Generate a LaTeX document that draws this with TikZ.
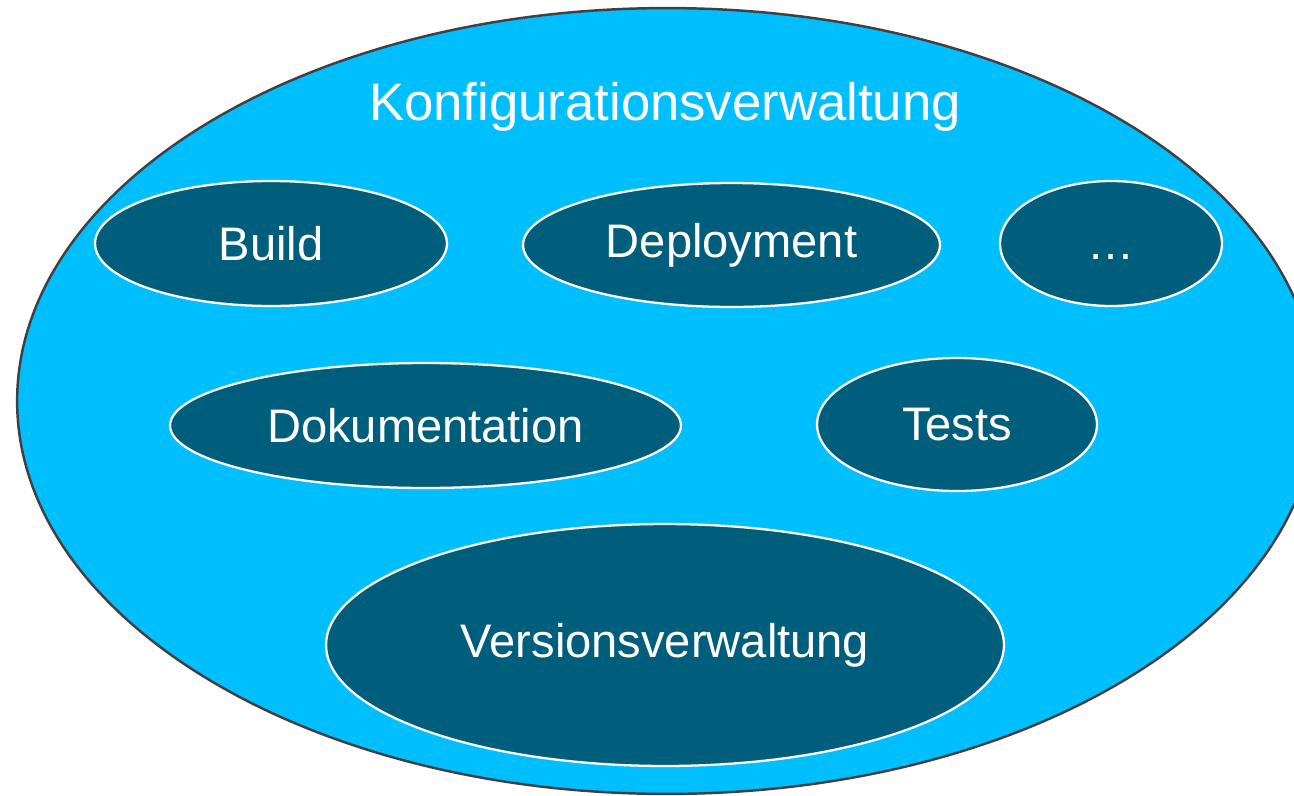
\documentclass[tikz,border=0pt]{standalone}
\usepackage{fontspec}
\setmainfont{Liberation Sans}
\usetikzlibrary{shapes.geometric}
\definecolor{sky}{RGB}{0,191,255}
\definecolor{petrol}{RGB}{0,94,125}
\definecolor{rim}{RGB}{64,64,68}
\tikzset{
    outer/.style = {ellipse,
                    fill=sky,
                    draw=rim,
                    line width=1.4pt,
                    inner sep=0pt},
    part/.style =  {ellipse,
                    fill=petrol,
                    draw=white!94!yellow,
                    text=white,
                    line width=1.3pt,
                    inner sep=0pt,
                    font=\fontsize{26.8}{30}\selectfont},
    title/.style = {text=white,
                    font=\fontsize{30}{34}\selectfont}}

\begin{document}
\begin{tikzpicture}[x=0.02cm,y=-0.02cm]
            \useasboundingbox (0,0) rectangle (1294,795);
            \clip (0,0) rectangle (1294,795);

            \node[outer, minimum width=26cm, minimum height=15.72cm] (KV) at (667,401) {};
            \node[title]  (KVt) at (665,107) {Konfigurationsverwaltung};

            \node[part, minimum width=7.04cm, minimum height=2.5cm]  (B) at (271,243.5)   {Build};
            \node[part, minimum width=8.34cm, minimum height=2.48cm] (D) at (731.5,245)   {Deployment};
            \node[part, minimum width=4.44cm, minimum height=2.5cm]  (X) at (1111,243.5)  {\vphantom{B}…};
            \node[part, minimum width=10.22cm, minimum height=2.5cm] (K) at (425.5,425.5) {Dokumentation};
            \node[part, minimum width=5.6cm, minimum height=2.66cm]  (T) at (957,424.5)   {Tests};
            \node[part, minimum width=13.56cm, minimum height=4.84cm] (V) at (665,645)    {Versionsverwaltung};
        \end{tikzpicture}
\end{document}
